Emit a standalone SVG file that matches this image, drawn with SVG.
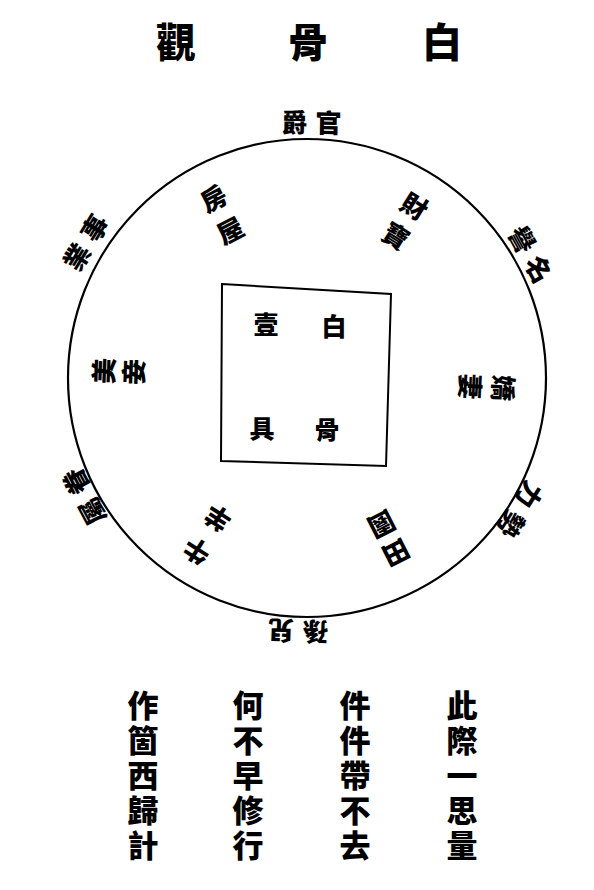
<svg xmlns="http://www.w3.org/2000/svg" width="594" height="890" viewBox="0 0 594 890">
<style>
text{font-family:"Noto Sans CJK TC","Noto Sans CJK SC",sans-serif;font-weight:900;fill:#000;text-anchor:middle;dominant-baseline:central}
.t{font-size:40px}
.o{font-size:26px}
.i{font-size:26px}
.c{font-size:25px}
.v{font-size:31px;writing-mode:vertical-rl;text-anchor:start;letter-spacing:4px}
</style>
<rect width="594" height="890" fill="#fff"/>
<g id="title">
<text class="t" x="176" y="40">觀</text>
<text class="t" x="308" y="40">骨</text>
<text class="t" x="442" y="40">白</text>
</g>
<g id="wheel">
<circle cx="307" cy="378" r="239" fill="none" stroke="#000" stroke-width="2.2"/>
</g>
<g id="center-box">
<polygon points="222,284 391,294 386,466 221,461" fill="none" stroke="#000" stroke-width="2"/>
<text class="c" x="334" y="325">白</text>
<text class="c" x="327" y="428">骨</text>
<text class="c" x="266" y="323">壹</text>
<text class="c" x="262" y="427">具</text>
</g>
<g id="outer-labels" transform="translate(307,378)">
<g id="o-guanjue" transform="rotate(1)"><text class="o" x="17" y="-257">官</text><text class="o" x="-17" y="-257">爵</text></g>
<g id="o-mingyu" transform="rotate(61)"><text class="o" x="17" y="-257">名</text><text class="o" x="-17" y="-257">譽</text></g>
<g id="o-shiye" transform="rotate(-58.5)"><text class="o" x="17" y="-261">事</text><text class="o" x="-17" y="-261">業</text></g>
<g id="o-shili" transform="rotate(121.7)"><text class="o" x="17" y="-252">勢</text><text class="o" x="-17" y="-252">力</text></g>
<g id="o-ersun" transform="rotate(182)"><text class="o" x="17" y="-255">兒</text><text class="o" x="-17" y="-255">孫</text></g>
<g id="o-juanshu" transform="rotate(-118)"><text class="o" x="17" y="-254">眷</text><text class="o" x="-17" y="-254">屬</text></g>
</g>
<g id="inner-labels" transform="translate(307,378)">
<g id="i-fangwu" transform="rotate(-27.5)"><text class="i" y="-204">房</text><text class="i" y="-168">屋</text></g>
<g id="i-caibao" transform="rotate(32)"><text class="i" y="-204">財</text><text class="i" y="-169">寶</text></g>
<g id="i-jiaoqi" transform="rotate(93)"><text class="i" y="-198">嬌</text><text class="i" y="-165">妻</text></g>
<g id="i-meiqie" transform="rotate(-88)"><text class="i" y="-205">美</text><text class="i" y="-175">妾</text></g>
<g id="i-tianyuan" transform="rotate(153)"><text class="i" y="-198">田</text><text class="i" y="-166">園</text></g>
<g id="i-niuyang" transform="rotate(-147.5)"><text class="i" y="-207">牛</text><text class="i" y="-168">羊</text></g>
</g>
<g id="verse">
<text class="v" x="462" y="690">此際一思量</text>
<text class="v" x="355" y="690">件件帶不去</text>
<text class="v" x="248" y="690">何不早修行</text>
<text class="v" x="143" y="690">作箇西歸計</text>
</g>
</svg>
